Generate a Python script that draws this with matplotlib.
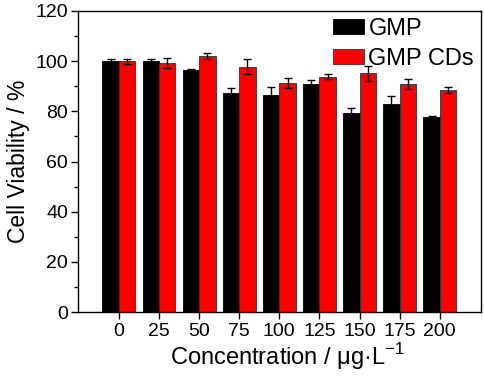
import matplotlib
matplotlib.use('Agg')
import matplotlib.pyplot as plt
import numpy as np

plt.rcParams['font.family'] = ['Liberation Sans', 'DejaVu Sans']
plt.rcParams['mathtext.fontset'] = 'custom'
plt.rcParams['mathtext.rm'] = 'Liberation Sans'

# Datos
concentraciones = ['0', '25', '50', '75', '100', '125', '150', '175', '200']
gmp = [100.0, 100.0, 96.4, 87.2, 86.5, 91.0, 79.3, 83.1, 77.6]
gmp_err = [1.0, 1.0, 0.5, 2.0, 3.0, 1.5, 2.0, 3.0, 0.5]
gmp_cds = [100.0, 99.4, 102.2, 97.8, 91.2, 93.7, 95.2, 90.8, 88.5]
gmp_cds_err = [1.0, 2.0, 1.2, 3.0, 2.0, 1.0, 3.0, 2.0, 1.0]

x = np.arange(len(concentraciones))
w = 0.41

fig = plt.figure(figsize=(4.84, 3.77), dpi=100)
ax = fig.add_axes([0.161, 0.172, 0.833, 0.799])

err_kw = dict(ecolor='black', elinewidth=1.0, capsize=3, capthick=1.0)
ax.bar(x - w / 2, gmp, w, yerr=gmp_err, color='black', edgecolor='black',
       linewidth=0.6, label='GMP', error_kw=err_kw)
ax.bar(x + w / 2, gmp_cds, w, yerr=gmp_cds_err, color='#ff0000', edgecolor='#333333',
       linewidth=0.6, label='GMP CDs', error_kw=err_kw)

ax.set_xlim(-1.02, 9.03)
ax.set_ylim(0, 120)
ax.set_xticks(x)
ax.set_xticklabels(concentraciones)
ax.set_yticks(np.arange(0, 121, 20))
ax.set_yticks(np.arange(0, 121, 10), minor=True)
ax.tick_params(axis='both', which='major', labelsize=14, direction='out', length=5, width=1)
ax.tick_params(axis='y', which='minor', direction='out', length=3, width=1)
ax.tick_params(axis='x', pad=3)
ax.tick_params(axis='y', pad=2)
for s in ax.spines.values():
    s.set_linewidth(1.0)

ax.set_ylabel('Cell Viability / %', fontsize=16.5, labelpad=4)
ax.set_xlabel('Concentration / μg·L$^{\\mathregular{-1}}$', fontsize=17, labelpad=1)
ax.xaxis.set_label_coords(0.52, -0.095)
ax.xaxis.label.set_va('top')

ax.legend(loc='upper right', fontsize=17, frameon=False, handlelength=1.3, handleheight=0.6,
          handletextpad=0.2, labelspacing=0.32, borderaxespad=0.0, borderpad=0.3,
          bbox_to_anchor=(1.0, 1.0))

fig.savefig('out.png', dpi=100)
